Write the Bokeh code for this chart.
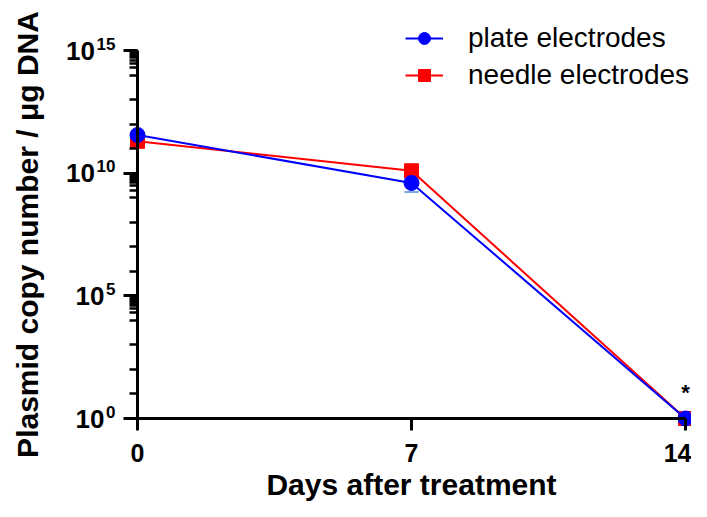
import math
from bokeh.plotting import figure
from bokeh.models import (Range1d, FixedTicker, Legend, LegendItem, Whisker, TeeHead,
                          ColumnDataSource, LinearAxis, LogAxis, CustomJSTickFormatter)
from bokeh.core.properties import value
from bokeh.embed import file_html
from bokeh.resources import INLINE

# ---------------- data ----------------
days = [0, 7, 14]
plate_mean = [3.6e11, 4.0e9, 1.0]
plate_sd = [0.5e11, 2.3e9, 0.0]
needle_mean = [2.0e11, 1.25e10, 1.0]
needle_sd = [0.85e11, 1.5e9, 0.0]
series_labels = ["plate electrodes", "needle electrodes"]
x_ticks = [0, 7, 14]
y_tick_exponents = [0, 5, 10, 15]
y_tick_base = ["10", "10", "10", "10"]
y_tick_sup = ["0", "5", "10", "15"]
sig_day = [14]
sig_value = [1.0]
sig_text = ["*"]
x_title = "Days after treatment"
y_title = "Plasmid copy number / μg DNA"

# ---------------- geometry ----------------
W, H = 691, 501
x_first_px, x_last_px = 137, 685      # pixel of first / last x tick
y_low_px, y_high_px = 418, 50         # pixel of lowest / highest y tick
FONT = "Liberation Sans"

px_per_day = (x_last_px - x_first_px) / (x_ticks[-1] - x_ticks[0])
x_start = x_ticks[0] - x_first_px / px_per_day
x_end = x_ticks[-1] + (W - x_last_px) / px_per_day
ndec = y_tick_exponents[-1] - y_tick_exponents[0]
px_per_dec = (y_low_px - y_high_px) / ndec
y_top = y_tick_exponents[-1] + y_high_px / px_per_dec
y_bot = y_tick_exponents[0] - (H - y_low_px) / px_per_dec

p = figure(width=W, height=H, output_backend="svg", toolbar_location=None,
           x_range=Range1d(x_start, x_end),
           y_range=Range1d(10 ** y_bot, 10 ** y_top),
           y_axis_type="log", x_axis_location=None, y_axis_location=None,
           title=None, min_border=0)
p.outline_line_color = None
p.grid.visible = False
p.background_fill_color = "white"

# ---------------- axes ----------------
major_y = [10.0 ** e for e in y_tick_exponents]
minor_y = [10.0 ** e for e in range(y_tick_exponents[0], y_tick_exponents[-1] + 1)]
for e in y_tick_exponents[1:]:
    minor_y += [m * 10.0 ** (e - 1) for m in range(2, 10)]

yaxis = LogAxis(fixed_location=x_ticks[0], bounds=(major_y[0], major_y[-1]),
                ticker=FixedTicker(ticks=major_y, minor_ticks=minor_y),
                formatter=CustomJSTickFormatter(code="return ''"))
yaxis.axis_line_width = 3
yaxis.major_tick_line_width = 3
yaxis.major_tick_out = 14
yaxis.major_tick_in = 0
yaxis.minor_tick_line_width = 2.5
yaxis.minor_tick_out = 8
yaxis.minor_tick_in = 0
yaxis.major_label_standoff = 0
yaxis.axis_label = y_title
yaxis.axis_label_text_font = FONT
yaxis.axis_label_text_font_style = "bold"
yaxis.axis_label_text_font_size = "30px"
yaxis.axis_label_text_color = "black"
yaxis.axis_label_standoff = 80
p.add_layout(yaxis, "left")

xaxis = LinearAxis(fixed_location=major_y[0], bounds=(x_ticks[0], x_ticks[-1]),
                   ticker=FixedTicker(ticks=x_ticks, minor_ticks=[]))
xaxis.axis_line_width = 3
xaxis.major_tick_line_width = 3
xaxis.major_tick_out = 12
xaxis.major_tick_in = 0
xaxis.major_label_text_font = FONT
xaxis.major_label_text_font_style = "bold"
xaxis.major_label_text_font_size = "25px"
xaxis.major_label_text_color = "black"
xaxis.major_label_standoff = 13
xaxis.axis_label = x_title
xaxis.axis_label_text_font = FONT
xaxis.axis_label_text_font_style = "bold"
xaxis.axis_label_text_font_size = "30px"
xaxis.axis_label_text_color = "black"
xaxis.axis_label_standoff = 3
p.add_layout(xaxis, "below")

# y tick labels as 10 with superscript exponent
sup_right = -22
digit_w = 9.5
ysrc = ColumnDataSource(dict(
    x=[x_ticks[0]] * len(major_y), y=major_y, base=y_tick_base, sup=y_tick_sup,
    base_off=[sup_right - digit_w * len(s) - 1.5 for s in y_tick_sup]))
p.text(x="x", y="y", text="base", source=ysrc, x_offset="base_off",
       text_font=value(FONT), text_font_style="bold", text_font_size="26px",
       text_align="right", text_baseline="middle", text_color="black")
p.text(x="x", y="y", text="sup", source=ysrc, x_offset=sup_right, y_offset=-13,
       text_font=value(FONT), text_font_style="bold", text_font_size="17px",
       text_align="right", text_baseline="top", text_color="black")

# ---------------- error bars ----------------
nsrc = ColumnDataSource(dict(x=days, upper=[m + s for m, s in zip(needle_mean, needle_sd)],
                             lower=[m - s if s > 0 else m for m, s in zip(needle_mean, needle_sd)]))
psrc = ColumnDataSource(dict(x=days, upper=[m + s for m, s in zip(plate_mean, plate_sd)],
                             lower=[m - s if s > 0 else m for m, s in zip(plate_mean, plate_sd)]))
p.add_layout(Whisker(source=nsrc, base="x", upper="upper", lower="lower",
                     line_color="red", line_width=2,
                     upper_head=TeeHead(size=14, line_color="red", line_width=2),
                     lower_head=TeeHead(size=14, line_color="red", line_width=2)))
p.add_layout(Whisker(source=psrc, base="x", upper="upper", lower="lower",
                     line_color="#7aa6e6", line_width=2,
                     upper_head=TeeHead(size=14, line_color="#7aa6e6", line_width=2),
                     lower_head=TeeHead(size=14, line_color="#7aa6e6", line_width=2)))

# ---------------- series ----------------
rl = p.line(days, needle_mean, line_color="red", line_width=2)
rs = p.scatter(days, needle_mean, marker="square", size=14, fill_color="red", line_color="red")
bl = p.line(days, plate_mean, line_color="blue", line_width=2)
bc = p.scatter(days, plate_mean, marker="circle", size=15, fill_color="blue", line_color="blue")

# significance mark
p.text(x=sig_day, y=sig_value, text=sig_text, y_offset=-26,
       text_font=value(FONT), text_font_style="bold", text_font_size="22px",
       text_align="center", text_baseline="alphabetic", text_color="black")

legend = Legend(items=[LegendItem(label=series_labels[0], renderers=[bl, bc]),
                       LegendItem(label=series_labels[1], renderers=[rl, rs])],
                location=(405, 410), orientation="vertical", padding=0, margin=0,
                spacing=5, glyph_width=38, glyph_height=30, label_height=32,
                label_standoff=25, label_text_font=FONT, label_text_font_size="28px",
                label_text_color="black", label_text_baseline="middle",
                border_line_color=None, background_fill_alpha=0)
p.add_layout(legend)

open("out.html", "w").write(file_html(p, INLINE))
